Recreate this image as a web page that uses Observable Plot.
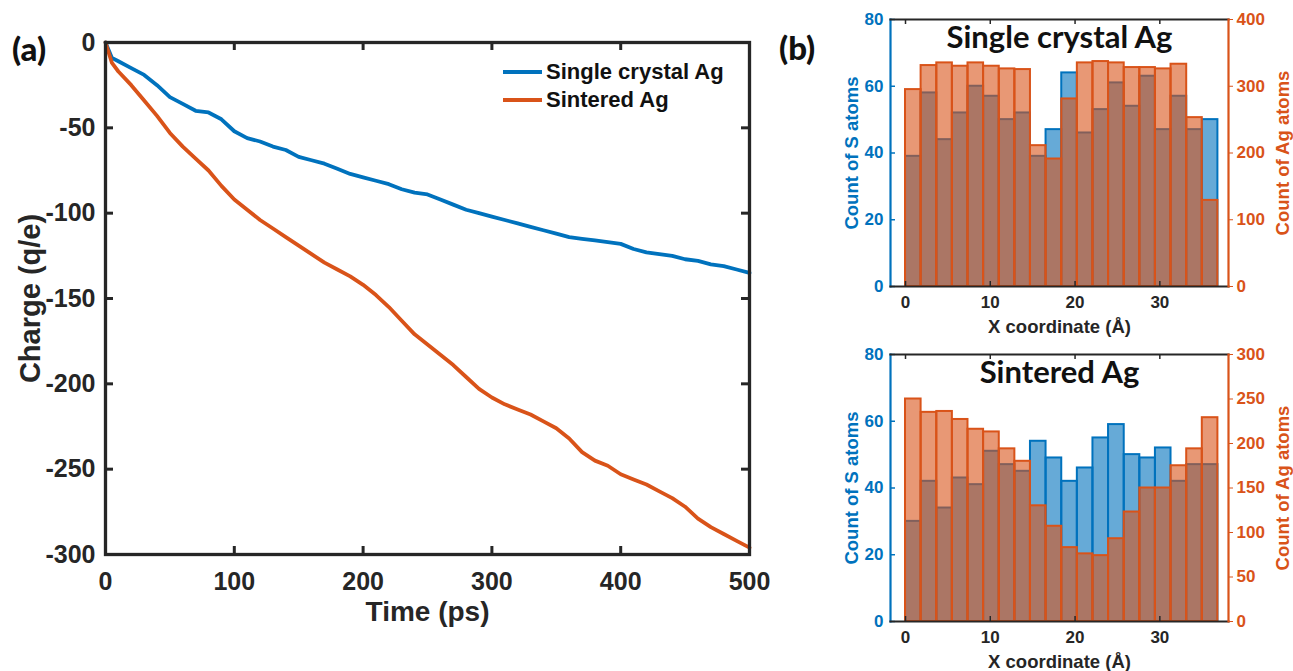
<!DOCTYPE html>
<html><head><meta charset="utf-8">
<script src="https://cdn.jsdelivr.net/npm/d3@7"></script>
<script src="https://cdn.jsdelivr.net/npm/@observablehq/plot@0.6"></script>
<style>
body{margin:0;background:#fff;}
#wrap{position:relative;width:1293px;height:671px;overflow:hidden;background:#fff;font-family:"Liberation Sans",Arial,sans-serif;}
.pane{position:absolute;}
.pane svg{overflow:visible;}
.plabel{position:absolute;font-family:Lato,"Open Sans",sans-serif;font-weight:900;font-size:33px;color:#111;line-height:1;}
.legend{position:absolute;left:503px;top:58px;font:bold 22px "Liberation Sans",Arial,sans-serif;color:#111;}
.legend div{display:flex;align-items:center;height:28px;}
.legend span.sw{display:inline-block;width:39px;height:4px;margin-right:4px;}
</style></head>
<body>
<div id="wrap"></div>
<script>
// ---------- Panel (a) data ----------
const timePs = [0,5,10,20,30,40,50,60,70,80,90,100,110,120,130,140,150,160,170,180,190,200,210,220,230,240,250,260,270,280,290,300,310,320,330,340,350,360,370,380,390,400,410,420,430,440,450,460,470,480,490,500];
const chargeSingle = [0,-9,-11,-15,-19,-25,-32,-36,-40,-41,-45,-52,-56,-58,-61,-63,-67,-69,-71,-74,-77,-79,-81,-83,-86,-88,-89,-92,-95,-98,-100,-102,-104,-106,-108,-110,-112,-114,-115,-116,-117,-118,-121,-123,-124,-125,-127,-128,-130,-131,-133,-135];
const chargeSintered = [0,-12,-17,-25,-34,-43,-53,-61,-68,-75,-84,-92,-98,-104,-109,-114,-119,-124,-129,-133,-137,-142,-148,-155,-163,-171,-177,-183,-189,-196,-203,-208,-212,-215,-218,-222,-226,-232,-240,-245,-248,-253,-256,-259,-263,-267,-272,-279,-284,-288,-292,-296];
const timeTicks = [0,100,200,300,400,500];
const chargeTicks = [0,-50,-100,-150,-200,-250,-300];
const seriesNames = ["Single crystal Ag","Sintered Ag"];

// ---------- Panel (b) data ----------
const binEdges = [0,1.84,3.69,5.53,7.37,9.21,11.06,12.9,14.74,16.58,18.43,20.27,22.11,23.95,25.8,27.64,29.48,31.32,33.17,35.01,36.85];
const sCountSingle = [39,58,44,52,60,57,50,52,39,47,64,46,53,61,54,63,47,57,47,50];
const agCountSingle = [295,331,335,330,335,330,326,325,211,191,281,335,337,335,328,328,326,333,253,129];
const sCountSintered = [30,42,34,43,41,51,47,45,54,49,42,46,55,59,50,49,52,42,47,47];
const agCountSintered = [250,235,236,227,216,213,194,180,130,107,83,76,74,93,123,150,150,175,194,229];
const xCoordTicks = [0,10,20,30];
const sTicks = [0,20,40,60,80];
const agTicksSingle = [0,100,200,300,400];
const agTicksSintered = [0,50,100,150,200,250,300];
const histTitles = ["Single crystal Ag","Sintered Ag"];

const BLUE = "#0072BD", ORANGE = "#D95319", INK = "#262626";
const FONT = "'Liberation Sans', Arial, sans-serif";
const fmt = d => String(d);
const wrap = document.getElementById("wrap");
function place(node, left, top) {
  const d = document.createElement("div");
  d.className = "pane"; d.style.left = left + "px"; d.style.top = top + "px";
  d.appendChild(node); wrap.appendChild(d);
}

// ---------- Panel (a) ----------
{
  const W = 780, H = 671, mL = 105, mR = 31, mT = 42, mB = 117;
  const iW = W - mL - mR, iH = H - mT - mB;
  const rows = timePs.map((t, i) => ({t, single: chargeSingle[i], sintered: chargeSintered[i]}));
  const chart = Plot.plot({
    width: W, height: H, marginLeft: mL, marginRight: mR, marginTop: mT, marginBottom: mB,
    style: {background: "transparent", fontFamily: FONT, color: INK},
    x: {domain: [0, 500]},
    y: {domain: [-300, 0]},
    marks: [
      Plot.line(rows, {x: "t", y: "single", stroke: BLUE, strokeWidth: 3.8}),
      Plot.line(rows, {x: "t", y: "sintered", stroke: ORANGE, strokeWidth: 3.8}),
      Plot.tickX(timeTicks, {x: d => d, stroke: INK, strokeWidth: 3, insetTop: iH - 8}),
      Plot.tickX(timeTicks, {x: d => d, stroke: INK, strokeWidth: 3, insetBottom: iH - 8}),
      Plot.tickY(chargeTicks, {y: d => d, stroke: INK, strokeWidth: 3, insetRight: iW - 8}),
      Plot.tickY(chargeTicks, {y: d => d, stroke: INK, strokeWidth: 3, insetLeft: iW - 8}),
      Plot.frame({stroke: INK, strokeWidth: 3.3}),
      Plot.axisX(timeTicks, {tickSize: 0, tickPadding: 18, fontSize: 25, fontWeight: "bold", color: INK, label: null, tickFormat: fmt}),
      Plot.axisY(chargeTicks, {tickSize: 0, tickPadding: 10, fontSize: 25, fontWeight: "bold", color: INK, label: null, tickFormat: fmt}),
      Plot.text(["Time (ps)"], {text: d => d, frameAnchor: "bottom", lineAnchor: "middle", textAnchor: "middle", dy: 58, fontSize: 28, fontWeight: "bold", fill: INK}),
      Plot.text(["Charge (q/e)"], {text: d => d, frameAnchor: "left", lineAnchor: "middle", textAnchor: "middle", dx: -75, rotate: -90, fontSize: 29, fontWeight: "bold", fill: INK})
    ]
  });
  place(chart, 0, 0);
  const lg = document.createElement("div");
  lg.className = "legend";
  lg.innerHTML = `<div><span class="sw" style="background:${BLUE}"></span>${seriesNames[0]}</div>` +
                 `<div><span class="sw" style="background:${ORANGE}"></span>${seriesNames[1]}</div>`;
  wrap.appendChild(lg);
  const la = document.createElement("div");
  la.className = "plabel"; la.textContent = "(a)"; la.style.left = "12px"; la.style.top = "32px";
  wrap.appendChild(la);
  const lb = document.createElement("div");
  lb.className = "plabel"; lb.textContent = "(b)"; lb.style.left = "779px"; lb.style.top = "31px";
  wrap.appendChild(lb);
}

// ---------- Panel (b) ----------
function hist({top, H, mT, mB, sCounts, agCounts, agMax, agTicks, title}) {
  const W = 463, mL = 60, mR = 65;
  const iW = W - mL - mR, iH = H - mT - mB;
  const xDom = [-1.77, 38.1];
  const bins = sCounts.map((s, i) => ({x1: binEdges[i], x2: binEdges[i + 1], s, ag: agCounts[i]}));
  const common = {width: W, height: H, marginLeft: mL, marginRight: mR, marginTop: mT, marginBottom: mB,
    style: {background: "transparent", fontFamily: FONT}};
  const left = Plot.plot({
    ...common,
    x: {domain: xDom}, y: {domain: [0, 80]},
    marks: [
      Plot.rectY(bins, {x1: "x1", x2: "x2", y: "s", fill: BLUE, fillOpacity: 0.6, stroke: BLUE, strokeWidth: 2}),
      Plot.tickY(sTicks, {y: d => d, stroke: BLUE, strokeWidth: 1.5, insetRight: iW - 5}),
      Plot.frame({anchor: "left", stroke: BLUE, strokeWidth: 2.2}),
      Plot.axisY(sTicks, {tickSize: 0, tickPadding: 7, fontSize: 17, fontWeight: "bold", color: BLUE, label: null}),
      Plot.axisX(xCoordTicks, {tickSize: 0, tickPadding: 9, fontSize: 17, fontWeight: "bold", color: INK, label: null}),
      Plot.text(["Count of S atoms"], {text: d => d, frameAnchor: "left", lineAnchor: "middle", textAnchor: "middle", dx: -38, rotate: -90, fontSize: 18.5, fontWeight: "bold", fill: BLUE}),
      Plot.text(["X coordinate (Å)"], {text: d => d, frameAnchor: "bottom", lineAnchor: "middle", textAnchor: "middle", dy: 41, fontSize: 18.5, fontWeight: "bold", fill: INK})
    ]
  });
  const right = Plot.plot({
    ...common,
    x: {domain: xDom, axis: null}, y: {domain: [0, agMax]},
    marks: [
      Plot.rectY(bins, {x1: "x1", x2: "x2", y: "ag", fill: ORANGE, fillOpacity: 0.6, stroke: ORANGE, strokeWidth: 2}),
      Plot.frame({anchor: "top", stroke: INK, strokeWidth: 2.2}),
      Plot.frame({anchor: "bottom", stroke: INK, strokeWidth: 2.2}),
      Plot.frame({anchor: "right", stroke: ORANGE, strokeWidth: 2.2}),
      Plot.tickX(xCoordTicks, {x: d => d, stroke: INK, strokeWidth: 1.5, insetTop: iH - 5}),
      Plot.tickX(xCoordTicks, {x: d => d, stroke: INK, strokeWidth: 1.5, insetBottom: iH - 5}),
      Plot.axisY(agTicks, {anchor: "right", tickSize: 4, tickPadding: 4, fontSize: 17, fontWeight: "bold", color: ORANGE, label: null}),
      Plot.text(["Count of Ag atoms"], {text: d => d, frameAnchor: "right", lineAnchor: "middle", textAnchor: "middle", dx: 55, rotate: -90, fontSize: 18.5, fontWeight: "bold", fill: ORANGE}),
      Plot.text([title], {text: d => d, frameAnchor: "top", lineAnchor: "middle", textAnchor: "middle", dy: 19, fontSize: 31, fontWeight: "bold", fill: "#111", fontFamily: "Lato, 'Open Sans', sans-serif"})
    ]
  });
  place(left, 830, top);
  place(right, 830, top);
}
hist({top: 0, H: 340, mT: 19, mB: 54, sCounts: sCountSingle, agCounts: agCountSingle, agMax: 400, agTicks: agTicksSingle, title: histTitles[0]});
hist({top: 335, H: 336, mT: 19, mB: 50, sCounts: sCountSintered, agCounts: agCountSintered, agMax: 300, agTicks: agTicksSintered, title: histTitles[1]});
</script>
</body></html>
